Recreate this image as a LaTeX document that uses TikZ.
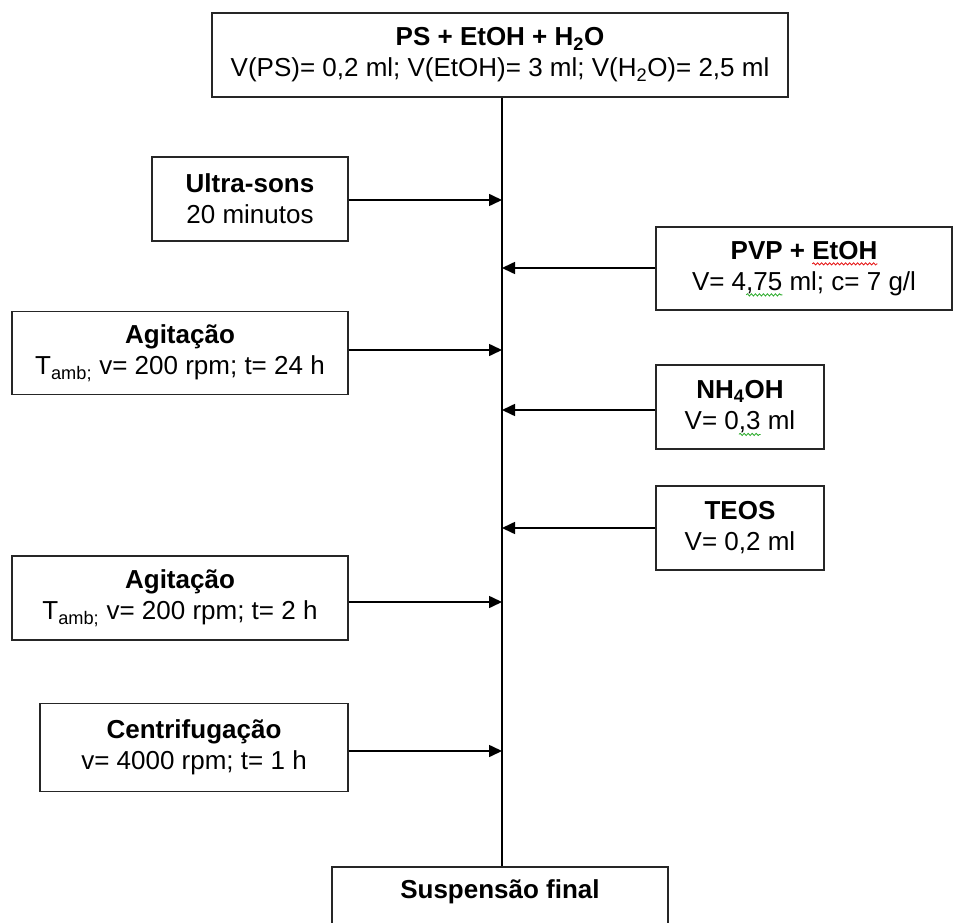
\documentclass[tikz,border=0pt]{standalone}
\usepackage{fontspec}
\setmainfont{Liberation Sans}
\usetikzlibrary{arrows.meta,decorations.pathmorphing}

% spell-check style wavy underline below a piece of text
\newlength\wavylen
\newcommand\wavy[2]{\settowidth\wavylen{#2}\leavevmode\rlap{\tikz[overlay,baseline=0pt]\draw[#1,line width=0.8pt,decorate,decoration={snake,amplitude=1.1pt,segment length=4pt}] (0pt,-4.5pt) -- (\wavylen,-4.5pt);}#2}

\definecolor{spellred}{RGB}{230,20,20}
\definecolor{spellgreen}{RGB}{40,170,40}

\begin{document}
\begin{tikzpicture}[x=1pt,y=-1pt,
  box/.style={draw=black!85, line width=1.6pt, fill=white, align=center,
    inner sep=0pt, font=\fontsize{26}{31}\selectfont},
  trunkline/.style={black, line width=1.6pt},
  feed/.style={black, line width=1.6pt, -{Triangle[length=13pt,width=12pt]}}]
\useasboundingbox (0,0) rectangle (954,923);
\clip (0,0) rectangle (954,923);

% process steps
\node[box, minimum width=576pt, minimum height=84pt] (top) at (500,55)
  {\textbf{PS + EtOH + H\textsubscript{2}O}\\V(PS)= 0,2 ml; V(EtOH)= 3 ml; V(H\textsubscript{2}O)= 2,5 ml};
\node[box, minimum width=196pt, minimum height=84pt] (ultra) at (250,199)
  {\textbf{Ultra-sons}\\20 minutos};
\node[box, minimum width=296pt, minimum height=83pt] (pvp) at (804,268.5)
  {\textbf{PVP + \wavy{spellred}{EtOH}}\\V= 4\wavy{spellgreen}{,75} ml; c= 7 g/l};
\node[box, minimum width=336pt, minimum height=83pt] (agit1) at (180,353)
  {\textbf{Agitação}\\T\textsubscript{amb;} v= 200 rpm; t= 24 h};
\node[box, minimum width=168pt, minimum height=84pt] (nh4) at (740,407)
  {\textbf{NH\textsubscript{4}OH}\\V= 0\wavy{spellgreen}{,3} ml};
\node[box, minimum width=168pt, minimum height=84pt] (teos) at (740,528)
  {\textbf{TEOS}\\V= 0,2 ml};
\node[box, minimum width=336pt, minimum height=84pt] (agit2) at (180,598)
  {\textbf{Agitação}\\T\textsubscript{amb;} v= 200 rpm; t= 2 h};
\node[box, minimum width=308pt, minimum height=88pt] (centr) at (194,747.5)
  {\textbf{Centrifugação}\\v= 4000 rpm; t= 1 h};
\node[box, minimum width=336pt, minimum height=84pt] (final) at (500,909)
  {\textbf{Suspensão final}\\\strut};

% main process line and the points where streams join it
\coordinate (trunk) at (502,0);
\draw[trunkline] (top.south -| trunk) -- (final.north -| trunk);
\coordinate (j1) at (502,200);
\coordinate (j2) at (502,268);
\coordinate (j3) at (502,350);
\coordinate (j4) at (502,410);
\coordinate (j5) at (502,528);
\coordinate (j6) at (502,602);
\coordinate (j7) at (502,751);

\draw[feed] (ultra.east |- j1) -- (j1);
\draw[feed] (pvp.west |- j2) -- (j2);
\draw[feed] (agit1.east |- j3) -- (j3);
\draw[feed] (nh4.west |- j4) -- (j4);
\draw[feed] (teos.west |- j5) -- (j5);
\draw[feed] (agit2.east |- j6) -- (j6);
\draw[feed] (centr.east |- j7) -- (j7);
\end{tikzpicture}
\end{document}
